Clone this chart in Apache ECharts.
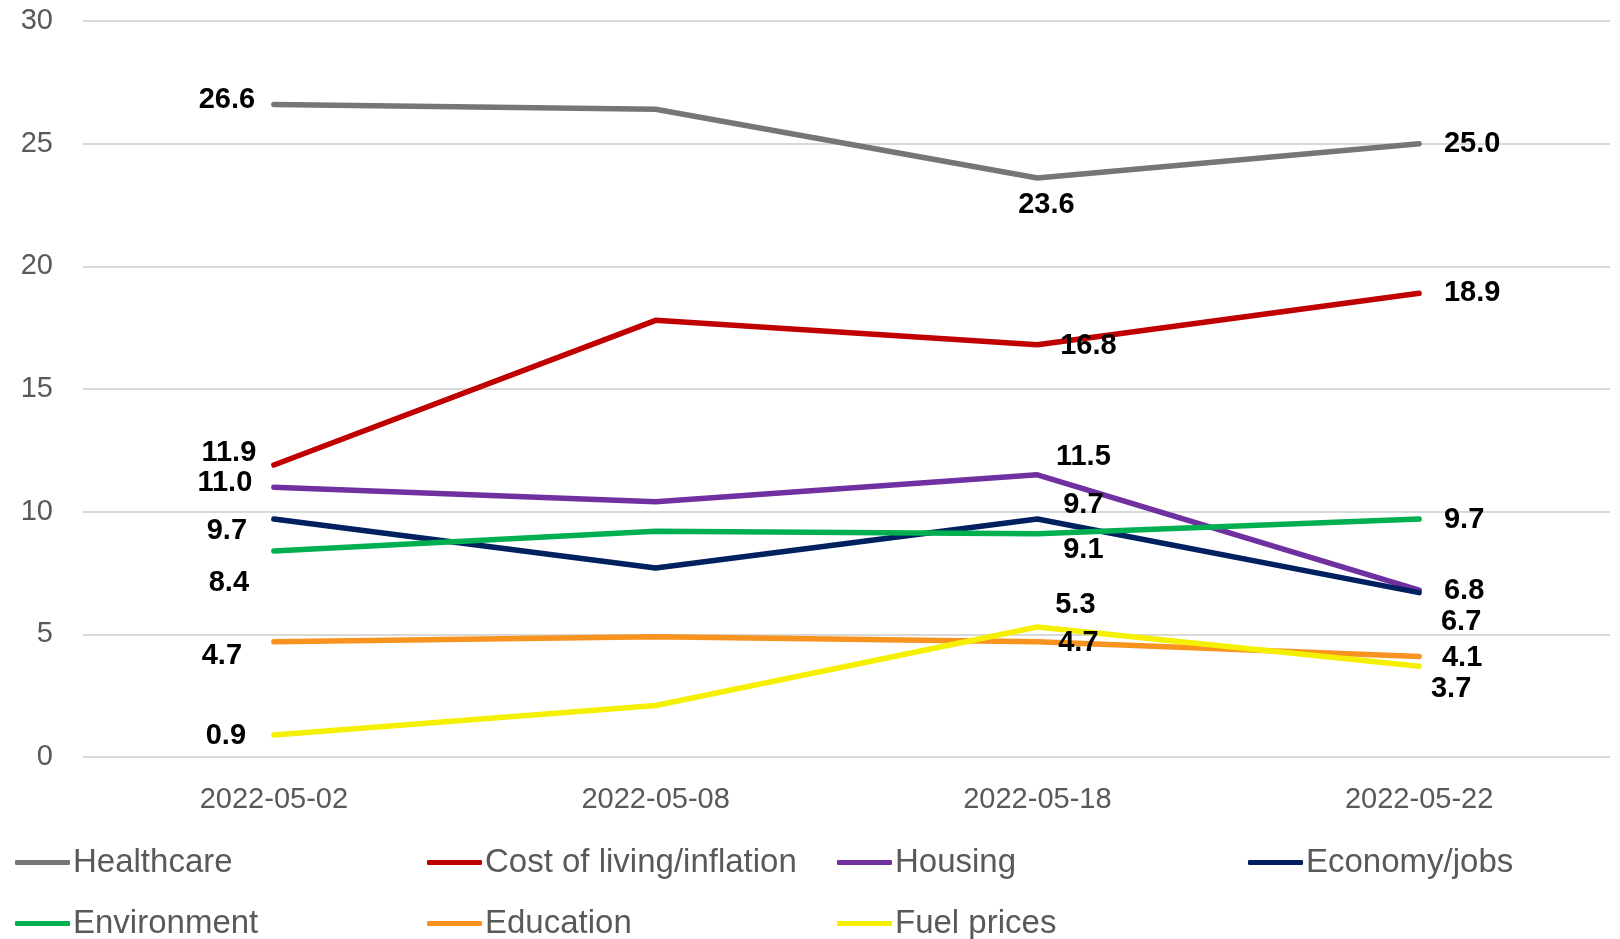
<!DOCTYPE html>
<html>
<head>
<meta charset="utf-8">
<script src="https://cdn.jsdelivr.net/npm/echarts@6/dist/echarts.min.js"></script>
<style>
  html, body { margin: 0; padding: 0; background: #fff; }
  #chart { width: 1620px; height: 939px; }
</style>
</head>
<body>
<div id="chart"></div>
<script>
const dates = ['2022-05-02', '2022-05-08', '2022-05-18', '2022-05-22']
const healthcare = [26.6, 26.4, 23.6, 25.0]
const costOfLiving = [11.9, 17.8, 16.8, 18.9]
const housing = [11.0, 10.4, 11.5, 6.8]
const economy = [9.7, 7.7, 9.7, 6.7]
const environment = [8.4, 9.2, 9.1, 9.7]
const education = [4.7, 4.9, 4.7, 4.1]
const fuelPrices = [0.9, 2.1, 5.3, 3.7]

const FONT = "'Liberation Sans', Arial, sans-serif"

// where each value label sits relative to its point (null = no label)
const labelOffsets = {
  'Healthcare': [[-47, -4], null, [9, 27], [53, 0]],
  'Cost of living/inflation': [[-45, -12], null, [51, 1], [53, 0]],
  'Housing': [[-49, -4], null, [46, -18], [45, 1]],
  'Economy/jobs': [[-47, 12], null, [46, -14], [42, 29]],
  'Environment': [[-45, 32], null, [46, 16], [45, 1]],
  'Education': [[-52, 14], null, [41, 1], [43, 2]],
  'Fuel prices': [[-48, 1], null, [38, -22], [32, 23]],
}

const seriesDefs = [
  { name: 'Healthcare', data: healthcare, color: '#767676' },
  { name: 'Cost of living/inflation', data: costOfLiving, color: '#c00000' },
  { name: 'Housing', data: housing, color: '#7030a0' },
  { name: 'Economy/jobs', data: economy, color: '#002060' },
  { name: 'Environment', data: environment, color: '#00b050' },
  { name: 'Education', data: education, color: '#f7931e' },
  { name: 'Fuel prices', data: fuelPrices, color: '#f5f000' },
]

function makeSeries(def) {
  const offs = labelOffsets[def.name]
  return {
    name: def.name,
    type: 'line',
    symbol: 'circle',
    symbolSize: 0,
    showSymbol: true,
    color: def.color,
    lineStyle: { width: 5.5, color: def.color, cap: 'round', join: 'round' },
    emphasis: { disabled: true },
    data: def.data.map((v, i) => ({
      value: v,
      label: offs[i]
        ? {
            show: true,
            position: 'inside',
            offset: offs[i],
            align: 'center',
            verticalAlign: 'middle',
            formatter: p => p.value.toFixed(1),
            fontFamily: FONT,
            fontWeight: 'bold',
            fontSize: 29,
            color: '#000',
          }
        : { show: false },
    })),
  }
}

function legendCol(left, names) {
  return {
    orient: 'vertical',
    left: left,
    top: 846,
    height: 140,
    padding: 0,
    itemGap: 28,
    itemWidth: 55,
    itemHeight: 5,
    icon: 'roundRect',
    selectedMode: false,
    data: names,
    textStyle: {
      fontFamily: FONT,
      fontSize: 33,
      lineHeight: 33,
      color: '#595959',
      padding: [0, 0, 0, -2],
    },
  }
}

const myChart = echarts.init(document.getElementById('chart'))
myChart.setOption({
  animation: false,
  backgroundColor: '#fff',
  grid: { left: 83, right: 10, top: 21, bottom: 182, containLabel: false },
  legend: [
    legendCol(15, ['Healthcare', 'Environment']),
    legendCol(427, ['Cost of living/inflation', 'Education']),
    legendCol(837, ['Housing', 'Fuel prices']),
    legendCol(1248, ['Economy/jobs']),
  ],
  xAxis: {
    type: 'category',
    data: dates,
    boundaryGap: true,
    axisLine: { show: false },
    axisTick: { show: false },
    axisLabel: {
      margin: 28,
      fontFamily: FONT,
      fontSize: 29,
      color: '#595959',
    },
  },
  yAxis: {
    type: 'value',
    min: 0,
    max: 30,
    interval: 5,
    axisLine: { show: false },
    axisTick: { show: false },
    splitLine: { lineStyle: { color: '#d9d9d9', width: 2 } },
    axisLabel: {
      margin: 30,
      fontFamily: FONT,
      fontSize: 29,
      color: '#595959',
    },
  },
  series: seriesDefs.map(makeSeries),
})
</script>
</body>
</html>
